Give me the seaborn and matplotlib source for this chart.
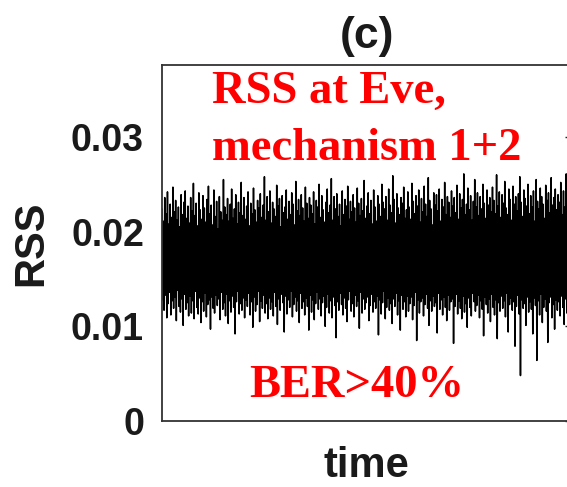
import numpy as np
import pandas as pd
import seaborn as sns
import matplotlib
matplotlib.use("Agg")
import matplotlib.pyplot as plt

sns.set_theme(style="white")
plt.rcParams['font.family'] = ['Liberation Sans', 'DejaVu Sans']

# RSS samples, in units of 1e-4
rss_e4 = [
    224, 128, 211, 117, 236, 133, 219, 109, 242, 124, 208, 136, 229, 112, 215, 127, 247, 119, 221, 131,
    233, 106, 212, 138, 226, 121, 205, 115, 239, 129, 218, 101, 231, 134, 243, 118, 214, 125, 227, 111,
    209, 132, 236, 114, 222, 127, 251, 108, 217, 137, 230, 120, 206, 113, 241, 130, 223, 104, 213, 126,
    238, 116, 225, 135, 210, 110, 234, 123, 248, 128, 219, 97, 228, 131, 207, 119, 244, 114, 216, 133,
    232, 122, 203, 129, 237, 107, 221, 136, 212, 118, 255, 125, 226, 111, 218, 134, 235, 103, 211, 127,
    229, 115, 245, 132, 214, 120, 224, 92, 239, 126, 208, 137, 231, 113, 220, 124, 252, 117, 217, 130,
    236, 109, 213, 128, 227, 121, 242, 135, 206, 112, 230, 126, 219, 99, 246, 131, 223, 116, 210, 123,
    233, 137, 225, 105, 240, 127, 215, 119, 228, 133, 258, 114, 212, 124, 237, 108, 221, 130, 243, 118,
    209, 126, 231, 111, 224, 136, 216, 121, 249, 102, 227, 129, 235, 117, 205, 134, 238, 125, 220, 94,
    226, 132, 244, 113, 213, 128, 232, 120, 218, 137, 241, 110, 229, 123, 207, 131, 253, 116, 222, 127,
    234, 104, 217, 135, 239, 119, 225, 126, 211, 112, 247, 130, 230, 121, 214, 96, 236, 133, 228, 115,
    219, 128, 242, 107, 208, 124, 233, 136, 226, 118, 250, 129, 215, 111, 238, 125, 223, 132, 210, 100,
    231, 120, 245, 134, 220, 114, 228, 127, 256, 109, 212, 131, 237, 122, 224, 88, 240, 126, 216, 117,
    229, 135, 206, 123, 243, 112, 218, 130, 234, 119, 227, 105, 248, 128, 213, 137, 232, 116, 221, 124,
    239, 110, 225, 133, 210, 121, 246, 127, 230, 98, 217, 136, 235, 114, 222, 129, 254, 118, 214, 125,
    227, 131, 241, 106, 219, 122, 233, 134, 208, 115, 244, 126, 226, 119, 211, 132, 238, 91, 229, 128,
    216, 113, 250, 125, 231, 137, 224, 108, 237, 120, 212, 130, 245, 117, 228, 124, 220, 103, 259, 129,
    234, 121, 209, 135, 240, 112, 225, 127, 218, 96, 236, 133, 230, 118, 247, 126, 214, 110, 223, 132,
    242, 116, 226, 124, 213, 131, 251, 107, 232, 122, 219, 136, 238, 85, 227, 128, 244, 114, 210, 126,
    235, 130, 221, 111, 248, 123, 229, 134, 216, 119, 257, 101, 233, 127, 224, 116, 207, 132, 241, 121,
    228, 125, 239, 93, 222, 135, 245, 118, 211, 128, 234, 112, 226, 131, 252, 120, 218, 106, 237, 133,
    231, 117, 215, 126, 243, 129, 227, 82, 236, 121, 220, 134, 249, 113, 213, 127, 240, 119, 225, 108,
    234, 132, 261, 115, 218, 124, 229, 99, 246, 130, 223, 120, 238, 111, 212, 135, 232, 126, 255, 116,
    226, 122, 241, 133, 217, 109, 237, 127, 224, 118, 250, 90, 230, 131, 214, 123, 244, 114, 228, 129,
    236, 105, 221, 134, 247, 120, 233, 112, 219, 128, 260, 87, 227, 125, 242, 116, 215, 132, 239, 119,
    230, 127, 253, 110, 225, 135, 218, 94, 245, 123, 234, 130, 212, 117, 248, 126, 229, 79, 237, 121,
    222, 133, 240, 113, 258, 48, 231, 128, 216, 119, 244, 124, 235, 101, 227, 131, 250, 115, 219, 126,
    238, 118, 226, 92, 243, 130, 211, 122, 255, 64, 232, 127, 224, 112, 246, 134, 237, 104, 229, 120,
    214, 129, 249, 116, 233, 83, 241, 125, 220, 131, 257, 109, 228, 123, 236, 97, 245, 128, 223, 117,
    239, 126, 231, 111, 252, 132, 218, 120, 243, 102, 226, 129, 261, 114, 234, 125, 221, 107, 247, 130,
]
rss = np.array(rss_e4) / 1e4

y_ticks = [0, 0.01, 0.02, 0.03]
y_tick_labels = ['0', '0.01', '0.02', '0.03']
title_text = '(c)'
x_label = 'time'
y_label = 'RSS'
note_line1 = 'RSS at Eve,'
note_line2 = 'mechanism 1+2'
note_ber = 'BER>40%'

W, H = 567, 487
fig = plt.figure(figsize=(W / 100, H / 100), dpi=100)
ax = fig.add_axes([162 / W, (H - 421) / H, (571 - 162) / W, (421 - 65) / H])

df = pd.DataFrame({'time': np.arange(len(rss)), 'RSS': rss})
sns.lineplot(data=df, x='time', y='RSS', color='black', linewidth=1.1,
             estimator=None, ax=ax)

ax.set_xlim(0, len(rss) - 1)
ax.set_ylim(0, 0.0376)
ax.set_xticks([])
ax.set_yticks(y_ticks, y_tick_labels)
ax.tick_params(axis='y', direction='in', length=4, width=1, right=True,
               labelsize=27, pad=13, colors='#222222', labelcolor='#1a1a1a')
for lbl in ax.get_yticklabels():
    lbl.set_fontweight('bold')
for sp in ax.spines.values():
    sp.set_visible(True)
    sp.set_color('#333333')
    sp.set_linewidth(1.3)

ax.set_xlabel(x_label, fontsize=30, fontweight='bold', labelpad=18, color='#1a1a1a')
ax.set_ylabel(y_label, fontsize=30, fontweight='bold', labelpad=14, color='#1a1a1a')
ax.set_title(title_text, fontsize=32, fontweight='bold', pad=12, color='#1a1a1a')

serif = ['Liberation Serif', 'DejaVu Serif']
fig.text(212 / W, 1 - 103 / H, note_line1, color='red', fontsize=33.5,
         fontweight='bold', family=serif, ha='left', va='baseline')
fig.text(212 / W, 1 - 160 / H, note_line2, color='red', fontsize=33.5,
         fontweight='bold', family=serif, ha='left', va='baseline')
fig.text(249 / W, 1 - 397 / H, note_ber, color='red', fontsize=33.5,
         fontweight='bold', family=serif, ha='left', va='baseline')

fig.savefig('out.png', dpi=100)
